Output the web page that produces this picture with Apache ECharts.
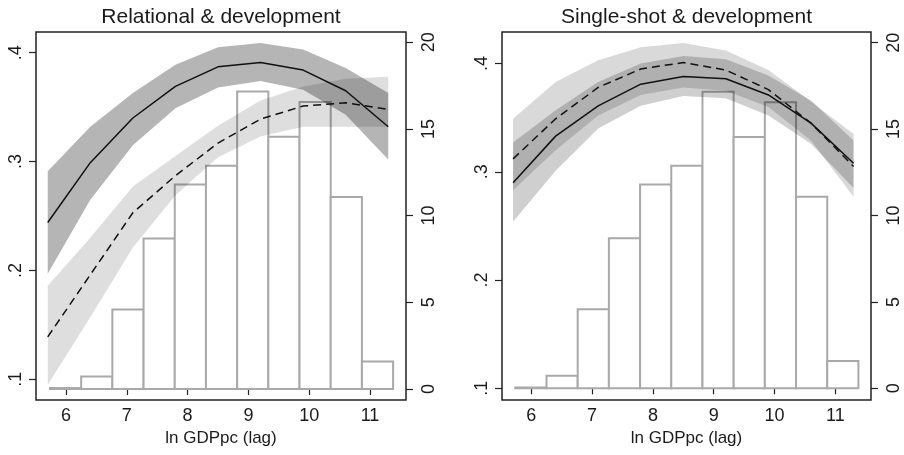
<!DOCTYPE html>
<html lang="en">

<head>
    <meta charset="UTF-8">
    <title>Relational / Single-shot & development</title>
    <script src="https://cdn.jsdelivr.net/npm/echarts@6/dist/echarts.min.js"></script>
    <style>
        body { margin: 0; background: #fff; }
    </style>
</head>

<body>

    <div id="app" style="width:904px;height:455px;"></div>
    <script>
        // evaluation points of the fitted curves
        var xs = [5.7, 6.4, 7.1, 7.8, 8.5, 9.2, 9.9, 10.6, 11.3];

        // Relational & development
        var relSolid = [0.244, 0.299, 0.340, 0.369, 0.387, 0.391, 0.384, 0.365, 0.332];
        var relSolidHi = [0.291, 0.332, 0.363, 0.389, 0.405, 0.409, 0.403, 0.386, 0.363];
        var relSolidLo = [0.197, 0.265, 0.315, 0.349, 0.368, 0.374, 0.366, 0.343, 0.302];
        var relDash = [0.139, 0.196, 0.253, 0.287, 0.317, 0.339, 0.351, 0.354, 0.348];
        var relDashHi = [0.186, 0.230, 0.277, 0.305, 0.333, 0.356, 0.369, 0.376, 0.378];
        var relDashLo = [0.095, 0.157, 0.221, 0.269, 0.304, 0.323, 0.332, 0.332, 0.332];

        // Single-shot & development
        var sgSolid = [0.290, 0.333, 0.361, 0.381, 0.388, 0.386, 0.371, 0.345, 0.308];
        var sgSolidHi = [0.327, 0.357, 0.383, 0.400, 0.407, 0.404, 0.389, 0.366, 0.329];
        var sgSolidLo = [0.254, 0.301, 0.340, 0.361, 0.370, 0.368, 0.352, 0.326, 0.285];
        var sgDash = [0.312, 0.349, 0.378, 0.395, 0.401, 0.394, 0.376, 0.345, 0.305];
        var sgDashHi = [0.349, 0.383, 0.403, 0.415, 0.419, 0.412, 0.394, 0.365, 0.335];
        var sgDashLo = [0.283, 0.320, 0.352, 0.371, 0.378, 0.375, 0.360, 0.329, 0.277];

        // histogram of ln GDPpc (right axis), same in both panels
        var binEdges = [5.737, 6.250, 6.763, 7.276, 7.789, 8.302, 8.815, 9.328, 9.841, 10.354, 10.867, 11.380];
        var binCounts = [0.05, 0.72, 4.58, 8.68, 11.8, 12.88, 17.16, 14.55, 16.55, 11.08, 1.58];

        // tick labels
        var xTicks = [6, 7, 8, 9, 10, 11];
        var leftTicks = [0.1, 0.2, 0.3, 0.4];
        var rightTicks = [0, 5, 10, 15, 20];
        var titles = ['Relational & development', 'Single-shot & development'];

        var FONT = '"Liberation Sans", Arial, sans-serif';
        var INK = '#1a1a1a';

        var myChart = echarts.init(document.getElementById('app'));

        function pairs(a) {
            var out = [];
            for (var i = 0; i < xs.length; i++) out.push([xs[i], a[i]]);
            return out;
        }

        function bandRows(lo, hi) {
            var out = [];
            for (var i = 0; i < xs.length; i++) out.push([xs[i], lo[i], hi[i]]);
            return out;
        }

        var histData = [];
        for (var i = 0; i < binCounts.length; i++) {
            histData.push([binEdges[i], binEdges[i + 1], binCounts[i]]);
        }

        function renderBar(params, api) {
            var p0 = api.coord([api.value(0), api.value(2)]);
            var p1 = api.coord([api.value(1), 0]);
            return {
                type: 'rect',
                shape: { x: p0[0], y: p0[1], width: p1[0] - p0[0], height: p1[1] - p0[1] },
                style: { fill: '#fff', stroke: '#a9a9a9', lineWidth: 2 }
            };
        }

        // one polygon for the whole band, built on the first item
        function renderBand(params, api) {
            if (params.dataIndexInside !== 0) return;
            var top = [], bot = [];
            for (var j = 0; j < params.dataInsideLength; j++) {
                var x = api.value(0, j);
                top.push(api.coord([x, api.value(2, j)]));
                bot.unshift(api.coord([x, api.value(1, j)]));
            }
            return {
                type: 'polygon',
                shape: { points: top.concat(bot) },
                style: { fill: api.visual('color') }
            };
        }

        var panels = [
            { left: 36, width: 370, xMin: 5.507, xMax: 11.592, yMin: 0.081, yMax: 0.419, rMin: -0.635, rMax: 20.59,
              solid: relSolid, solidHi: relSolidHi, solidLo: relSolidLo,
              dash: relDash, dashHi: relDashHi, dashLo: relDashLo,
              solidBand: 'rgba(0,0,0,0.29)', dashBand: 'rgba(0,0,0,0.13)' },
            { left: 502, width: 369, xMin: 5.518, xMax: 11.587, yMin: 0.0892, yMax: 0.4292, rMin: -0.677, rMax: 20.62,
              solid: sgSolid, solidHi: sgSolidHi, solidLo: sgSolidLo,
              dash: sgDash, dashHi: sgDashHi, dashLo: sgDashLo,
              solidBand: 'rgba(0,0,0,0.19)', dashBand: 'rgba(0,0,0,0.15)' }
        ];

        var grid = [], xAxis = [], yAxis = [], series = [], title = [];

        panels.forEach(function (p, k) {
            grid.push({
                left: p.left, top: 32, width: p.width, height: 368,
                show: true, borderColor: '#222', borderWidth: 1.5,
                outerBoundsMode: 'none', containLabel: false
            });
            title.push({
                text: titles[k], left: p.left + p.width / 2, top: 7, padding: 0,
                textAlign: 'center',
                textStyle: { fontFamily: FONT, fontSize: 21, fontWeight: 'normal', color: INK }
            });
            xAxis.push({
                type: 'value', gridIndex: k, min: p.xMin, max: p.xMax,
                name: 'ln GDPpc (lag)', nameLocation: 'middle', nameGap: 30,
                nameTextStyle: { fontFamily: FONT, fontSize: 17, color: INK },
                axisLine: { show: false },
                axisTick: { show: true, length: 6, customValues: xTicks, lineStyle: { color: '#222', width: 1.2 } },
                axisLabel: { customValues: xTicks, margin: 7, fontFamily: FONT, fontSize: 18, color: INK },
                splitLine: { show: false }
            });
            yAxis.push({
                type: 'value', gridIndex: k, position: 'left', min: p.yMin, max: p.yMax,
                axisLine: { show: false },
                axisTick: { show: true, length: 7, customValues: leftTicks, lineStyle: { color: '#222', width: 1.2 } },
                axisLabel: {
                    customValues: leftTicks, rotate: 90, margin: 11,
                    fontFamily: FONT, fontSize: 18, color: INK,
                    formatter: function (v) { return String(v).replace(/^0/, ''); }
                },
                splitLine: { show: false }
            });
            yAxis.push({
                type: 'value', gridIndex: k, position: 'right', min: p.rMin, max: p.rMax,
                axisLine: { show: false },
                axisTick: { show: true, length: 7, customValues: rightTicks, lineStyle: { color: '#222', width: 1.2 } },
                axisLabel: { customValues: rightTicks, rotate: 90, margin: 14, fontFamily: FONT, fontSize: 18, color: INK },
                splitLine: { show: false }
            });

            var yl = k * 2, yr = k * 2 + 1;

            series.push({
                type: 'custom', xAxisIndex: k, yAxisIndex: yr,
                renderItem: renderBar, encode: { x: [0, 1], y: 2 },
                data: histData, silent: true
            });
            series.push({
                type: 'custom', xAxisIndex: k, yAxisIndex: yl,
                renderItem: renderBand, encode: { x: 0, y: [1, 2] },
                itemStyle: { color: p.solidBand },
                data: bandRows(p.solidLo, p.solidHi), silent: true
            });
            series.push({
                type: 'custom', xAxisIndex: k, yAxisIndex: yl,
                renderItem: renderBand, encode: { x: 0, y: [1, 2] },
                itemStyle: { color: p.dashBand },
                data: bandRows(p.dashLo, p.dashHi), silent: true
            });
            series.push({
                type: 'line', xAxisIndex: k, yAxisIndex: yl, data: pairs(p.solid),
                symbol: 'none', lineStyle: { color: '#111', width: 1.5 }, silent: true
            });
            series.push({
                type: 'line', xAxisIndex: k, yAxisIndex: yl, data: pairs(p.dash),
                symbol: 'none', lineStyle: { color: '#111', width: 1.5, type: [8, 5] }, silent: true
            });
        });

        myChart.setOption({
            animation: false,
            backgroundColor: '#fff',
            title: title,
            grid: grid,
            xAxis: xAxis,
            yAxis: yAxis,
            series: series
        });
    </script>
</body>

</html>
